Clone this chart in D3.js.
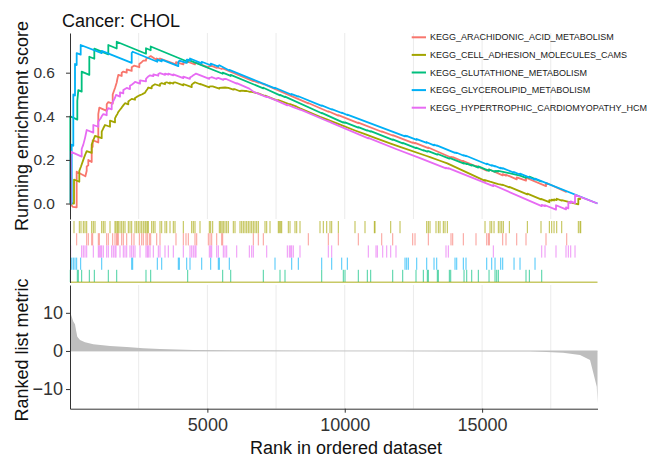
<!DOCTYPE html>
<html>
<head>
<meta charset="utf-8">
<script src="https://cdn.jsdelivr.net/npm/d3@7"></script>
<style>
  body { margin: 0; background: #fff; }
  text { font-family: "Liberation Sans", Arial, Helvetica, sans-serif; }
</style>
</head>
<body>
<div id="chart"></div>
<script>
// gene sets, legend order
const setNames = [
    "KEGG_ARACHIDONIC_ACID_METABOLISM",
    "KEGG_CELL_ADHESION_MOLECULES_CAMS",
    "KEGG_GLUTATHIONE_METABOLISM",
    "KEGG_GLYCEROLIPID_METABOLISM",
    "KEGG_HYPERTROPHIC_CARDIOMYOPATHY_HCM"
];
const setColors = ["#F8766D", "#A3A500", "#00BF7D", "#00B0F6", "#E76BF3"];
const nGenes = 19200;

// running enrichment score, [rank, score]
const esArachidonic = [[0,0],[100,-0.015],[243,-0.018],[243,0.146],[560,0.125],[608,0.15],[608,0.17],[666,0.175],[666,0.2],[790,0.19],[790,0.255],[826,0.26],[826,0.29],[1030,0.28],[1030,0.41],[1067,0.44],[1336,0.425],[1336,0.455],[1394,0.465],[1554,0.458],[1554,0.5],[1638,0.53],[1700,0.555],[1722,0.57],[1758,0.59],[1882,0.585],[1882,0.6],[1940,0.605],[2064,0.6],[2064,0.615],[2246,0.608],[2246,0.625],[2330,0.632],[2523,0.625],[2523,0.64],[2610,0.648],[2668,0.655],[2766,0.655],[2766,0.662],[2814,0.667],[2887,0.672],[2937,0.676],[3156,0.658],[3156,0.665],[3276,0.66],[3276,0.665],[3858,0.638],[3858,0.648],[4124,0.638],[4124,0.645],[4222,0.647],[4306,0.649],[4550,0.638],[4550,0.643],[4612,0.645],[5034,0.624],[5034,0.628],[5096,0.63],[5158,0.631],[5340,0.622],[5340,0.625],[5522,0.617],[5558,0.619],[6672,0.561],[6672,0.563],[6854,0.554],[6854,0.556],[7036,0.547],[7036,0.549],[8674,0.459],[8674,0.461],[9402,0.421],[9402,0.423],[9766,0.403],[9766,0.405],[10494,0.369],[10494,0.371],[11346,0.329],[11346,0.331],[11746,0.312],[11746,0.314],[12474,0.278],[12474,0.28],[12558,0.276],[12558,0.278],[13042,0.254],[13042,0.257],[13868,0.211],[13868,0.214],[13930,0.211],[13930,0.213],[14316,0.192],[14316,0.195],[14778,0.17],[14778,0.173],[15168,0.151],[15168,0.155],[15226,0.152],[15226,0.155],[15263,0.153],[15263,0.156],[15750,0.129],[15750,0.135],[15870,0.128],[15870,0.132],[16260,0.111],[16260,0.12],[16598,0.105],[16598,0.118],[17326,0.08],[17326,0.095],[18080,0.052]];
const esCams = [[0,0],[146,0],[146,0.11],[339,0.1],[339,0.15],[400,0.17],[484,0.2],[546,0.222],[608,0.24],[790,0.232],[790,0.27],[848,0.29],[910,0.31],[1154,0.3],[1154,0.33],[1212,0.345],[1274,0.36],[1456,0.352],[1456,0.38],[1638,0.372],[1638,0.39],[1674,0.4],[1722,0.41],[1758,0.42],[1820,0.43],[1882,0.44],[1940,0.45],[2002,0.46],[2122,0.455],[2122,0.468],[2184,0.474],[2246,0.48],[2366,0.476],[2366,0.484],[2428,0.489],[2486,0.493],[2548,0.497],[2610,0.5],[2668,0.504],[2730,0.508],[2766,0.516],[2814,0.524],[2850,0.532],[2974,0.528],[2974,0.537],[3032,0.542],[3094,0.547],[3276,0.54],[3276,0.548],[3338,0.552],[3458,0.547],[3458,0.553],[3520,0.556],[3640,0.55],[3640,0.555],[3760,0.55],[3760,0.554],[3822,0.556],[4124,0.542],[4124,0.548],[4430,0.534],[4430,0.545],[4488,0.551],[4550,0.556],[4732,0.547],[4732,0.549],[5071,0.533],[5071,0.536],[5121,0.537],[5194,0.537],[5435,0.527],[5435,0.53],[5533,0.531],[5642,0.532],[5762,0.53],[5944,0.522],[5944,0.524],[6006,0.524],[6188,0.515],[6188,0.517],[6250,0.518],[6370,0.516],[6432,0.516],[6552,0.512],[6614,0.512],[6734,0.508],[6854,0.505],[7098,0.493],[7098,0.495],[7280,0.486],[7582,0.471],[7582,0.474],[7706,0.469],[7946,0.457],[8008,0.456],[8252,0.444],[8372,0.437],[9100,0.398],[9344,0.386],[9526,0.377],[9766,0.365],[10374,0.335],[10738,0.318],[11102,0.301],[11673,0.275],[12012,0.26],[12984,0.218],[13104,0.213],[13468,0.196],[13734,0.184],[15106,0.104],[15106,0.107],[15288,0.1],[15350,0.098],[15434,0.095],[15590,0.089],[15652,0.088],[15714,0.086],[15772,0.085],[15991,0.074],[15991,0.076],[16646,0.042],[16646,0.045],[17144,0.019],[17144,0.021],[17447,0.006],[17447,0.016],[17534,0.013],[17534,0.018],[17618,0.014],[17618,0.019],[17716,0.016],[17716,0.022],[17898,0.013],[17898,0.016],[18502,-0.004],[18502,0.022],[18564,0.02],[18590,0.024]];
const esGlutathione = [[0,0],[10,0],[10,0.4],[266,0.385],[266,0.47],[302,0.52],[425,0.513],[425,0.605],[703,0.59],[703,0.673],[885,0.664],[885,0.71],[1394,0.684],[1394,0.727],[1700,0.711],[1700,0.742],[2766,0.687],[2766,0.712],[2937,0.703],[2937,0.72],[4284,0.65],[4284,0.66],[5558,0.595],[5558,0.6],[5850,0.585],[5850,0.59],[7036,0.528],[7036,0.531],[7644,0.496],[7644,0.498],[7826,0.488],[7826,0.49],[9162,0.414],[9162,0.416],[9948,0.371],[9948,0.373],[10010,0.37],[10010,0.372],[10494,0.348],[10494,0.35],[10822,0.334],[10822,0.336],[10945,0.33],[10945,0.332],[11746,0.292],[11746,0.294],[12110,0.276],[12110,0.278],[12594,0.254],[12594,0.256],[12860,0.243],[12860,0.245],[13006,0.238],[13006,0.24],[13042,0.24],[13370,0.224],[13370,0.226],[13406,0.226],[13807,0.206],[13807,0.208],[13857,0.207],[14342,0.183],[14342,0.186],[14440,0.181],[14440,0.183],[14622,0.174],[14622,0.177],[14862,0.165],[14862,0.17],[15252,0.15],[15252,0.156],[15470,0.145],[15470,0.15],[15532,0.147],[15532,0.15],[15590,0.147],[15590,0.15],[16380,0.128],[16598,0.118],[16598,0.124],[16719,0.118],[16719,0.123],[17170,0.1]];
const esGlycerolipid = [[0,0],[62,0],[62,0.27],[120,0.265],[120,0.5],[182,0.495],[182,0.64],[243,0.635],[243,0.69],[389,0.683],[389,0.727],[1154,0.69],[1154,0.7],[2246,0.645],[2246,0.69],[2282,0.696],[3178,0.65],[3178,0.66],[3338,0.652],[3338,0.66],[3942,0.63],[3942,0.648],[3979,0.655],[4248,0.645],[4248,0.66],[4368,0.655],[4368,0.665],[4794,0.643],[4794,0.65],[5121,0.634],[5121,0.642],[5398,0.628],[5398,0.632],[5435,0.634],[5798,0.61],[5798,0.613],[7462,0.528],[7462,0.531],[8070,0.499],[8070,0.502],[8310,0.49],[8310,0.492],[9162,0.448],[9162,0.45],[9526,0.431],[9526,0.433],[9890,0.415],[9890,0.417],[10094,0.406],[10094,0.408],[12194,0.308],[12194,0.311],[12256,0.308],[12256,0.31],[12314,0.307],[12620,0.292],[12620,0.295],[12984,0.278],[12984,0.281],[13250,0.267],[13250,0.27],[13348,0.265],[13348,0.267],[14014,0.232],[14014,0.234],[14076,0.231],[14076,0.233],[14316,0.22],[14316,0.222],[14414,0.217],[14414,0.219],[15168,0.18],[15168,0.183],[15350,0.173],[15350,0.176],[15470,0.17],[15470,0.172],[15677,0.161],[15677,0.164],[15750,0.16],[15750,0.162],[16162,0.141],[16162,0.144],[16380,0.133],[16380,0.137],[16926,0.109],[16926,0.114],[19200,0]];
const esHcm = [[0,0],[25,0],[25,0.238],[425,0.215],[425,0.25],[484,0.27],[546,0.3],[608,0.337],[848,0.325],[848,0.36],[1030,0.352],[1030,0.375],[1067,0.383],[1117,0.39],[1154,0.4],[1212,0.41],[1336,0.405],[1336,0.425],[1394,0.437],[1518,0.432],[1518,0.455],[1576,0.47],[1638,0.485],[1674,0.498],[1820,0.49],[1820,0.51],[1940,0.505],[1940,0.52],[2002,0.525],[2064,0.53],[2184,0.525],[2184,0.54],[2246,0.545],[2304,0.55],[2366,0.558],[2548,0.55],[2548,0.565],[2766,0.56],[2766,0.572],[2814,0.578],[2850,0.583],[2912,0.588],[3032,0.584],[3032,0.592],[3214,0.586],[3214,0.594],[3276,0.598],[3458,0.59],[3458,0.596],[3578,0.591],[3578,0.596],[3760,0.588],[3760,0.592],[4124,0.575],[4124,0.582],[4368,0.572],[4368,0.578],[4430,0.583],[4488,0.588],[4550,0.593],[4586,0.596],[5071,0.572],[5071,0.576],[5121,0.578],[5158,0.58],[5340,0.571],[5340,0.574],[5398,0.576],[5580,0.567],[5580,0.57],[5642,0.571],[5704,0.57],[6068,0.55],[6068,0.552],[6527,0.527],[6672,0.513],[7160,0.488],[7160,0.49],[7524,0.472],[7910,0.45],[7910,0.453],[8128,0.442],[8372,0.43],[8372,0.432],[9402,0.376],[9402,0.378],[9526,0.37],[10858,0.299],[10858,0.301],[11866,0.25],[12740,0.208],[13686,0.161],[13686,0.164],[13770,0.16],[13770,0.162],[15408,0.08],[15408,0.085],[17170,-0.012],[17170,-0.006],[17290,-0.012],[17290,-0.008],[17690,-0.028],[17690,-0.008],[18054,-0.027],[18054,-0.018],[18138,-0.022],[18138,0.006],[18225,0.002],[18225,0.01],[18382,0.002],[18382,0.04],[19200,0]];

// gene positions of each set in the ranked list
const hitsArachidonic = [243,608,666,790,826,1030,1067,1336,1394,1554,1638,1700,1722,1758,1882,1940,2064,2246,2330,2523,2610,2668,2766,2814,2887,2937,3156,3276,3858,4124,4222,4306,4550,4612,5034,5096,5158,5340,5522,5558,6672,6854,7036,8674,9402,9766,10494,11346,11746,12474,12558,13042,13868,13930,14316,14778,15168,15226,15263,15750,15870,16260,16598,17326,18080];
const hitsCams = [146,339,400,484,546,608,790,848,910,1154,1212,1274,1456,1638,1674,1722,1758,1820,1882,1940,2002,2122,2184,2246,2366,2428,2486,2548,2610,2668,2730,2766,2814,2850,2974,3032,3094,3276,3338,3458,3520,3640,3760,3822,4124,4430,4488,4550,4732,5071,5121,5194,5435,5485,5533,5580,5642,5704,5762,5944,6006,6188,6250,6308,6370,6432,6490,6552,6614,6672,6734,6796,6854,7098,7160,7280,7582,7619,7669,7706,7946,8008,8190,8252,8372,9100,9220,9344,9464,9526,9766,10374,10738,11077,11102,11673,12012,12984,13042,13104,13322,13406,13468,13588,13650,13734,15106,15288,15350,15434,15590,15652,15714,15772,15991,16646,17144,17447,17534,17618,17716,17898,18502,18564,18590];
const hitsGlutathione = [10,266,302,425,703,885,1394,1700,2766,2937,4284,5558,5850,7036,7644,7826,9162,9948,10010,10494,10822,10945,11746,12110,12594,12860,13006,13042,13370,13406,13807,13857,14342,14440,14622,14862,15252,15470,15532,15590,16598,16719,17170];
const hitsGlycerolipid = [62,120,182,243,389,1154,2246,2282,3178,3338,3942,3979,4248,4368,4794,5121,5398,5435,5798,7462,8070,8310,9162,9526,9890,10094,12194,12256,12314,12620,12984,13250,13348,14014,14076,14316,14414,15168,15350,15470,15677,15750,16162,16380,16926];
const hitsHcm = [25,425,484,546,608,848,1030,1067,1117,1154,1212,1336,1394,1518,1576,1638,1674,1820,1940,2002,2064,2184,2246,2304,2366,2548,2766,2814,2850,2912,3032,3214,3276,3458,3578,3760,4124,4368,4430,4488,4550,4586,5071,5121,5158,5340,5398,5580,5642,5704,6068,6527,6614,6672,7160,7910,7983,8034,8070,8128,8372,9402,9526,10858,11138,11186,11382,11528,11673,11866,13686,13770,15408,17170,17290,17690,18054,18138,18225,18382];

// ranked list metric
const metricRank  = [0, 120, 182, 218, 266, 364, 546, 848, 1456, 2064, 2668, 3276, 4488, 6000, 8000, 10000, 12000, 14000, 16744, 17945, 18564, 18928, 19049, 19173, 19200];
const metricValue = [10.3, 7.7, 7.0, 5.5, 3.75, 2.9, 2.3, 1.75, 1.3, 1.05, 0.7, 0.5, 0.26, 0.12, 0.05, 0.0, -0.02, -0.05, -0.1, -0.45, -1.05, -2.4, -5.8, -9.4, -13.7];

const esTicks = [0, 0.2, 0.4, 0.6];
const metricTicks = [-10, 0, 10];
const rankTicks = [5000, 10000, 15000];
const gridRanks = [2500, 5000, 7500, 10000, 12500, 15000, 17500];

const esSeries = [esArachidonic, esCams, esGlutathione, esGlycerolipid, esHcm];
const hitSeries = [hitsArachidonic, hitsCams, hitsGlutathione, hitsGlycerolipid, hitsHcm];
// order of the hit rows, top to bottom
const rowOrder = [1, 0, 4, 3, 2];

const W = 649, H = 457;
const svg = d3.select("#chart").append("svg")
    .attr("width", W)
    .attr("height", H);
svg.append("rect").attr("width", W).attr("height", H).attr("fill", "#fff");

const x = d3.scaleLinear().domain([0, nGenes]).range([70, 597.5]);
const yES = d3.scaleLinear().domain([-0.071, 0.782]).range([219, 33]);
const yMetric = d3.scaleLinear().domain([-15.15, 17.3]).range([408.7, 285]);
const yRow = d3.scaleBand().domain(rowOrder).range([221, 282]);

// vertical grid lines in top and bottom panels
[[33, 219], [285, 408.7]].forEach(([top, bottom]) => {
    svg.append("g").selectAll("line")
        .data(gridRanks)
        .enter()
        .append("line")
        .attr("x1", d => x(d)).attr("x2", d => x(d))
        .attr("y1", top).attr("y2", bottom)
        .attr("stroke", "#ebebeb")
        .attr("stroke-width", 1);
});

// running score curves
const line = d3.line().x(d => x(d[0])).y(d => yES(d[1]));
svg.append("g").selectAll("path")
    .data(esSeries)
    .enter()
    .append("path")
    .attr("d", line)
    .attr("fill", "none")
    .attr("stroke", (d, i) => setColors[i])
    .attr("stroke-width", 1.8)
    .attr("stroke-linejoin", "round");

// hit marks
hitSeries.forEach((hits, i) => {
    svg.append("g").selectAll("line")
        .data(hits)
        .enter()
        .append("line")
        .attr("x1", d => x(d)).attr("x2", d => x(d))
        .attr("y1", yRow(i)).attr("y2", yRow(i) + yRow.bandwidth())
        .attr("stroke", setColors[i])
        .attr("stroke-opacity", 0.72)
        .attr("stroke-width", 1);
});
svg.append("line")
    .attr("x1", x(0)).attr("x2", x(nGenes))
    .attr("y1", 282.3).attr("y2", 282.3)
    .attr("stroke", setColors[1])
    .attr("stroke-opacity", 0.6)
    .attr("stroke-width", 1.6);
svg.append("line")
    .attr("x1", 70.5).attr("x2", 70.5)
    .attr("y1", 221).attr("y2", 283)
    .attr("stroke", "#333");

// ranked list metric
const metric = metricRank.map((r, i) => [r, metricValue[i]]);
svg.append("line")
    .attr("x1", x(0)).attr("x2", x(nGenes))
    .attr("y1", yMetric(0)).attr("y2", yMetric(0))
    .attr("stroke", "#c4c4c4")
    .attr("stroke-width", 1);
svg.append("path")
    .datum(metric)
    .attr("d", d3.area().x(d => x(d[0])).y0(yMetric(0)).y1(d => yMetric(d[1])))
    .attr("fill", "#bebebe");

// axes
function styleAxis(g, size) {
    g.select(".domain").attr("stroke", "#333");
    g.selectAll(".tick line").attr("stroke", "#333");
    g.selectAll(".tick text")
        .attr("fill", "#333")
        .style("font-size", size + "px")
        .style("font-family", "'Liberation Sans', Arial, sans-serif");
}
svg.append("g")
    .attr("transform", "translate(70,0)")
    .call(d3.axisLeft(yES).tickValues(esTicks).tickFormat(d3.format(".1f")).tickSize(4).tickSizeOuter(0).tickPadding(11))
    .call(g => styleAxis(g, 15.5));
svg.append("g")
    .attr("transform", "translate(70,0)")
    .call(d3.axisLeft(yMetric).tickValues(metricTicks).tickSize(4).tickSizeOuter(0).tickPadding(3))
    .call(g => styleAxis(g, 18));
svg.append("g")
    .attr("transform", "translate(0,408.7)")
    .call(d3.axisBottom(x).tickValues(rankTicks).tickFormat(d3.format("d")).tickSize(4).tickSizeOuter(0).tickPadding(6))
    .call(g => styleAxis(g, 18));

// titles
svg.append("text")
    .attr("x", 62).attr("y", 27)
    .attr("font-size", 18)
    .attr("fill", "#111")
    .text("Cancer: CHOL");
svg.append("text")
    .attr("transform", "translate(28,126) rotate(-90)")
    .attr("text-anchor", "middle")
    .attr("font-size", 18)
    .attr("fill", "#111")
    .text("Running enrichment score");
svg.append("text")
    .attr("transform", "translate(28,350) rotate(-90)")
    .attr("text-anchor", "middle")
    .attr("font-size", 18)
    .attr("fill", "#111")
    .text("Ranked list metric");
svg.append("text")
    .attr("x", 346).attr("y", 454)
    .attr("text-anchor", "middle")
    .attr("font-size", 18)
    .attr("fill", "#111")
    .text("Rank in ordered dataset");

// legend
const legend = svg.append("g").selectAll("g")
    .data(setNames)
    .enter()
    .append("g")
    .attr("transform", (d, i) => `translate(0,${37.3 + i * 17.6})`);
legend.append("line")
    .attr("x1", 411.7).attr("x2", 426)
    .attr("stroke", (d, i) => setColors[i])
    .attr("stroke-width", 2);
legend.append("text")
    .attr("x", 430)
    .attr("dominant-baseline", "central")
    .attr("font-size", 9)
    .attr("fill", "#1a1a1a")
    .text(d => d);
</script>
</body>
</html>
